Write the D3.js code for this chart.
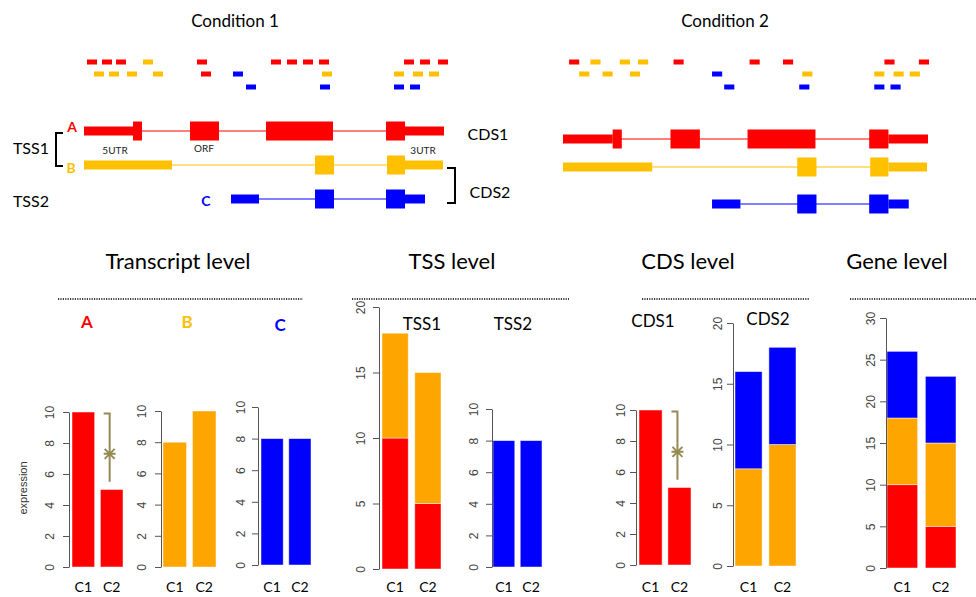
<!DOCTYPE html>
<html>
<head>
<meta charset="utf-8">
<script src="https://cdn.jsdelivr.net/npm/d3@7"></script>
<style>
  body { margin: 0; background: #fff; }
  svg { display: block; }
</style>
</head>
<body>
<svg id="chart"></svg>
<script>
// ---- data ----
const conditions = ["C1", "C2"];
const transcripts = ["A", "B", "C"];
const exprA = [10, 5];
const exprB = [8, 10];
const exprC = [8, 8];

// gene models, genomic units (0..360); [start, end, kind]
const exonsA = [[0, 49, "utr"], [49, 58, "cds"], [106, 135, "cds"], [182, 249, "cds"], [302, 321, "cds"], [321, 360, "utr"]];
const exonsB = [[0, 88, "utr"], [231, 250, "cds"], [303, 321, "cds"], [321, 359, "utr"]];
const exonsC = [[147, 175, "utr"], [231, 250, "cds"], [302, 321, "cds"], [321, 341, "utr"]];

// short reads: [start, row, transcript]
const readsCond1 = [
  [3, 0, "A"], [18, 0, "A"], [32, 0, "A"], [59, 0, "B"], [113, 0, "A"], [187, 0, "A"], [203, 0, "A"],
  [219, 0, "A"], [235, 0, "A"], [320, 0, "A"], [336, 0, "A"], [354, 0, "A"],
  [10, 1, "B"], [25, 1, "B"], [43, 1, "B"], [69, 1, "B"], [117, 1, "A"], [149, 1, "C"], [238, 1, "B"],
  [310, 1, "B"], [329, 1, "B"], [345, 1, "B"],
  [162, 2, "C"], [236, 2, "C"], [310, 2, "C"], [326, 2, "C"]
];
const readsCond2 = [
  [6, 0, "A"], [27, 0, "B"], [56, 0, "B"], [74, 0, "B"], [109, 0, "A"], [184, 0, "A"], [217, 0, "A"],
  [317, 0, "A"], [351, 0, "A"],
  [16, 1, "B"], [39, 1, "B"], [66, 1, "B"], [147, 1, "C"], [236, 1, "B"], [307, 1, "B"], [326, 1, "B"], [342, 1, "B"],
  [159, 2, "C"], [233, 2, "C"], [307, 2, "C"], [323, 2, "C"]
];
const readLen = 10;

const modelColor = { A: "#ff0000", B: "#ffc000", C: "#0000ff" };
const barColor = { A: "#ff0000", B: "#ffa500", C: "#0000ff" };

const W = 976, H = 597;
const svg = d3.select("#chart").attr("width", W).attr("height", H);
const calibri = "Lato, 'Open Sans', sans-serif";
const arial = "'Liberation Sans', Arial, sans-serif";

// ---- top: gene models per condition ----
const exons = { A: exonsA, B: exonsB, C: exonsC };
const conds = [
  { title: "Condition 1", tx: 235, range: [84, 444], rowY: [131, 165, 199], reads: readsCond1 },
  { title: "Condition 2", tx: 725, range: [563, 928], rowY: [139, 167, 204], reads: readsCond2 }
];
const readRowY = [62, 74, 87];

conds.forEach(c => {
  const x = d3.scaleLinear().domain([0, 360]).range(c.range);
  const g = svg.append("g");

  g.append("text").attr("x", c.tx).attr("y", 20)
    .attr("text-anchor", "middle").attr("dominant-baseline", "central")
    .style("font-family", calibri).style("font-size", "17px").text(c.title);

  // reads
  g.selectAll("rect.read").data(c.reads).enter().append("rect")
    .attr("x", d => x(d[0]))
    .attr("y", d => readRowY[d[1]] - 2.5)
    .attr("width", d => x(d[0] + readLen) - x(d[0]))
    .attr("height", 5)
    .attr("fill", d => modelColor[d[2]]);

  // transcripts
  transcripts.forEach((t, i) => {
    const ex = exons[t];
    const cy = c.rowY[i];
    g.append("line")
      .attr("x1", x(ex[0][1])).attr("x2", x(ex[ex.length - 1][0]))
      .attr("y1", cy).attr("y2", cy)
      .attr("stroke", modelColor[t]).attr("stroke-width", 1.2);
    g.selectAll("rect.ex" + t).data(ex).enter().append("rect")
      .attr("x", d => x(d[0]))
      .attr("width", d => x(d[1]) - x(d[0]))
      .attr("y", d => cy - (d[2] === "cds" ? 9.5 : 4.5))
      .attr("height", d => d[2] === "cds" ? 19 : 9)
      .attr("fill", modelColor[t]);
  });
});

// condition 1 annotations
const ann = svg.append("g");
const label = (x, y, txt, size, color, weight, font) =>
  ann.append("text").attr("x", x).attr("y", y)
    .attr("text-anchor", "middle").attr("dominant-baseline", "central")
    .style("font-family", font || calibri).style("font-size", size + "px")
    .style("font-weight", weight || "normal").attr("fill", color || "#000").text(txt);

label(72, 126, "A", 14, modelColor.A, "bold");
label(71, 167, "B", 14, modelColor.B, "bold");
label(206, 200, "C", 14, modelColor.C, "bold");
label(115, 150, "5UTR", 10, "#222");
label(204, 148, "ORF", 10, "#222");
label(423, 150, "3UTR", 10, "#222");
label(31, 147, "TSS1", 16);
label(31, 200, "TSS2", 16);
label(488, 133, "CDS1", 16);
label(490, 191, "CDS2", 16);
ann.append("path").attr("d", "M63,133H56V166H63").attr("fill", "none").attr("stroke", "#000").attr("stroke-width", 2);
ann.append("path").attr("d", "M447,168H455V203H447").attr("fill", "none").attr("stroke", "#000").attr("stroke-width", 2);

// ---- bottom: expression panels ----
const sections = [
  { title: "Transcript level", tx: 178, dots: [58, 303] },
  { title: "TSS level", tx: 452, dots: [352, 569] },
  { title: "CDS level", tx: 688, dots: [642, 809] },
  { title: "Gene level", tx: 897, dots: [850, 976] }
];
sections.forEach(s => {
  label(s.tx, 260, s.title, 22);
  ann.append("line").attr("x1", s.dots[0]).attr("x2", s.dots[1]).attr("y1", 299).attr("y2", 299)
    .attr("stroke", "#000").attr("stroke-width", 1.6).attr("stroke-dasharray", "1.2,1.2");
});

const panels = [
  { name: "A", nameColor: modelColor.A, nx: 87, ny: 321, bold: true, series: ["A"], axisX: 69, x0: 72, x1: 123, y0: 567, y1: 412, max: 10, step: 2, lab: 19, sig: true },
  { name: "B", nameColor: modelColor.B, nx: 187, ny: 321, bold: true, series: ["B"], axisX: 161, x0: 163, x1: 216, y0: 567, y1: 411, max: 10, step: 2, lab: 19 },
  { name: "C", nameColor: modelColor.C, nx: 280, ny: 324, bold: true, series: ["C"], axisX: 258, x0: 261, x1: 311, y0: 565, y1: 407, max: 10, step: 2, lab: 17 },
  { name: "TSS1", nx: 422, ny: 323, series: ["A", "B"], axisX: 379, x0: 382, x1: 441, y0: 569, y1: 307, max: 20, step: 5, lab: 18 },
  { name: "TSS2", nx: 513, ny: 323, series: ["C"], axisX: 492, x0: 493, x1: 542, y0: 567, y1: 409, max: 10, step: 2, lab: 18 },
  { name: "CDS1", nx: 653, ny: 320, series: ["A"], axisX: 636, x0: 639, x1: 691, y0: 565, y1: 410, max: 10, step: 2, lab: 15, sig: true },
  { name: "CDS2", nx: 768, ny: 318, series: ["B", "C"], axisX: 733, x0: 735, x1: 796, y0: 566, y1: 323, max: 20, step: 5, lab: 15 },
  { name: "", series: ["A", "B", "C"], axisX: 886, x0: 887, x1: 956, y0: 568, y1: 318, max: 30, step: 5, lab: 15 }
];
const expr = { A: exprA, B: exprB, C: exprC };

panels.forEach(p => {
  const g = svg.append("g");
  const x = d3.scaleBand().domain(conditions).range([p.x0, p.x1]).paddingInner(0.2);
  const y = d3.scaleLinear().domain([0, p.max]).range([p.y0, p.y1]);

  // stacked values
  const rows = conditions.map((c, i) => {
    const r = { cond: c };
    p.series.forEach(s => r[s] = expr[s][i]);
    return r;
  });
  const stacked = d3.stack().keys(p.series)(rows);

  stacked.forEach(layer => {
    g.selectAll(null).data(layer).enter().append("rect")
      .attr("x", d => x(d.data.cond))
      .attr("width", x.bandwidth())
      .attr("y", d => y(d[1]))
      .attr("height", d => y(d[0]) - y(d[1]))
      .attr("fill", barColor[layer.key])
      .attr("stroke", "#fff").attr("stroke-opacity", 0.6).attr("stroke-width", 0.8);
  });

  // y axis, R style with rotated labels
  const ax = g.append("g").attr("transform", `translate(${p.axisX},0)`)
    .call(d3.axisLeft(y).tickValues(d3.range(0, p.max + 0.001, p.step)).tickSize(6).tickSizeOuter(0));
  ax.select(".domain").attr("stroke", "#555");
  ax.selectAll(".tick line").attr("stroke", "#555");
  ax.selectAll(".tick text")
    .attr("x", 0).attr("y", 0).attr("dy", null)
    .attr("text-anchor", "middle").attr("dominant-baseline", "central")
    .attr("transform", `translate(${-p.lab},0) rotate(-90)`)
    .attr("fill", "#444")
    .style("font-family", arial).style("font-size", "12px");

  // condition labels
  g.selectAll("text.cl").data(conditions).enter().append("text")
    .attr("x", d => x(d) + x.bandwidth() / 2).attr("y", 586)
    .attr("text-anchor", "middle").attr("dominant-baseline", "central")
    .style("font-family", calibri).style("font-size", "14px").text(d => d);

  if (p.name) label(p.nx, p.ny, p.name, 17, p.nameColor || "#000", p.bold ? "bold" : "normal");

  // significance marker
  if (p.sig) {
    const sx = x("C2") + x.bandwidth() / 2 - 2;
    const top = y(9.9), bot = y(5.5), mid = y(7.3);
    const col = "#948a54";
    g.append("path").attr("d", `M${sx - 6},${top}H${sx}V${bot}`)
      .attr("fill", "none").attr("stroke", col).attr("stroke-width", 2);
    g.append("path")
      .attr("d", `M${sx - 6},${mid}H${sx + 6}M${sx - 5},${mid - 5}L${sx + 5},${mid + 5}M${sx - 5},${mid + 5}L${sx + 5},${mid - 5}`)
      .attr("stroke", col).attr("stroke-width", 2);
  }
});

// y axis title
ann.append("text").attr("transform", "translate(23,488) rotate(-90)")
  .attr("text-anchor", "middle").attr("dominant-baseline", "central")
  .style("font-family", arial).style("font-size", "11px").attr("fill", "#333").text("expression");
</script>
</body>
</html>
